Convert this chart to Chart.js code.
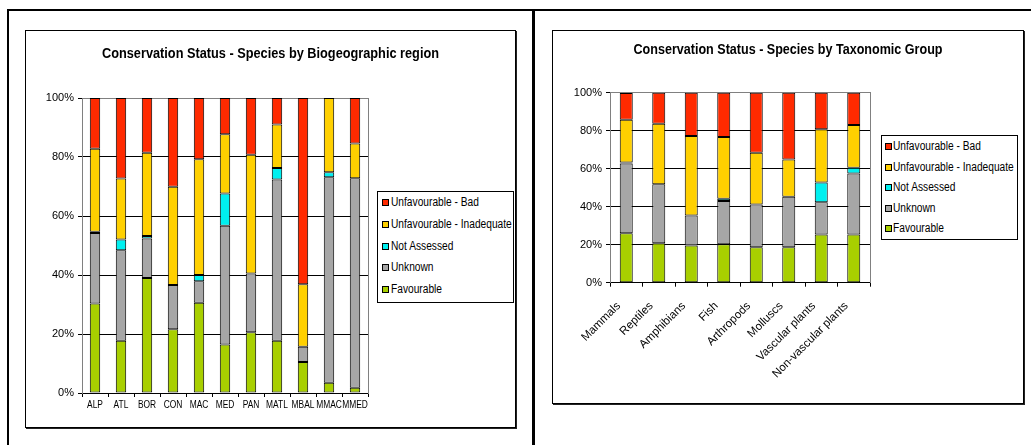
<!DOCTYPE html>
<html>
<head>
<meta charset="utf-8">
<script src="https://cdn.jsdelivr.net/npm/chart.js@4.4.0/dist/chart.umd.min.js"></script>
<style>
  html, body { margin: 0; padding: 0; background: #fff; }
  body { width: 1031px; height: 445px; position: relative; overflow: hidden;
         font-family: "Liberation Sans", Arial, sans-serif; }
  .line { position: absolute; background: #000; }
  .box { position: absolute; border: 1px solid #000; box-shadow: 1px 1px 0 #222; background: #fff; }
  .box canvas { display: block; }
  .legend { position: absolute; border: 1px solid #000; background: #fff; box-sizing: border-box; }
  .item { position: absolute; white-space: nowrap; color: #000; line-height: 14px; font-size: 12px;
          transform: scaleX(0.85); transform-origin: 0 50%; }
  .mark { position: absolute; width: 5px; height: 5px; border: 1px solid #000; }
</style>
</head>
<body>
<div class="line" style="left:7px;top:9px;width:1024px;height:2px;"></div>
<div class="line" style="left:7px;top:9px;width:2px;height:436px;"></div>
<div class="line" style="left:532px;top:9px;width:3px;height:436px;"></div>

<div class="box" style="left:25px;top:30px;width:489px;height:396px;"><canvas id="c1"></canvas></div>
<div class="box" style="left:552px;top:30px;width:470px;height:372px;"><canvas id="c2"></canvas></div>

<div id="lg1" class="legend" style="left:377px;top:191px;width:137px;height:112px;"></div>
<div id="lg2" class="legend" style="left:881px;top:135px;width:137px;height:105px;"></div>

<script>
// ---- shared series definition ----
const seriesNames = ["Favourable", "Unknown", "Not Assessed", "Unfavourable - Inadequate", "Unfavourable - Bad"];
const seriesColors = ["#A8CF00", "#A6A6A6", "#00F0F0", "#FFD000", "#FF2A00"];
const yTicks = [0, 20, 40, 60, 80, 100];

// ---- Chart 1: by biogeographic region (percent) ----
const regions = ["ALP", "ATL", "BOR", "CON", "MAC", "MED", "PAN", "MATL", "MBAL", "MMAC", "MMED"];
const regFavourable  = [30.3, 17.7, 39.0, 21.6, 30.6, 16.4, 20.6, 17.7, 10.5, 3.5, 1.8];
const regUnknown     = [23.9, 30.7, 13.4, 15.0, 7.3, 40.3, 19.9, 54.7, 5.2, 69.6, 71.0];
const regNotAssessed = [0.5, 3.6, 0.8, 0, 2.1, 10.9, 0, 3.9, 0, 1.7, 0];
const regInadequate  = [28.1, 20.7, 28.2, 33.3, 39.2, 20.1, 40.3, 14.7, 21.2, 25.2, 11.8];
const regBad         = [17.2, 27.3, 18.6, 30.1, 20.8, 12.3, 19.2, 9.0, 63.1, 0, 15.4];

// ---- Chart 2: by taxonomic group (percent) ----
const groups = ["Mammals", "Reptiles", "Amphibians", "Fish", "Arthropods", "Molluscs", "Vascular plants", "Non-vascular plants"];
const grpFavourable  = [26.0, 20.7, 19.6, 20.2, 18.6, 18.6, 25.4, 25.4];
const grpUnknown     = [36.8, 31.1, 15.8, 22.8, 22.6, 26.7, 16.9, 32.1];
const grpNotAssessed = [0.5, 0, 0, 1.2, 0, 0, 10.5, 3.0];
const grpInadequate  = [22.5, 31.9, 41.8, 32.5, 27.2, 19.6, 27.9, 22.5];
const grpBad         = [14.0, 16.3, 22.8, 23.3, 31.6, 35.1, 19.3, 17.0];

const FONT = '"Liberation Sans", Arial, sans-serif';

function makeDatasets(arrs) {
  return arrs.map((d, i) => ({
    label: seriesNames[i],
    data: d,
    backgroundColor: seriesColors[i],
    borderColor: "#000",
    borderWidth: 1,
    borderSkipped: false,
    barPercentage: 0.4,
    categoryPercentage: 1.0
  }));
}

// narrow the title like the reference (condensed rendering), centred on full width
const titleFit = {
  id: "titleFit",
  afterLayout(chart, args, opts) {
    const t = chart.titleBlock;
    if (!t) return;
    const c = chart.width / 2;
    t.left = c - opts.width / 2;
    t.right = c + opts.width / 2;
  }
};

// condensed category labels for the left chart (positions from the x scale)
const narrowLabels = {
  id: "narrowLabels",
  afterDraw(chart, args, opts) {
    if (!opts.enabled) return;
    const xs = chart.scales.x, ctx = chart.ctx;
    ctx.save();
    ctx.fillStyle = "#000";
    ctx.font = "11.5px " + FONT;
    ctx.textAlign = "center";
    ctx.textBaseline = "top";
    chart.data.labels.forEach((lab, i) => {
      const x = xs.getPixelForValue(i);
      ctx.save();
      ctx.translate(x, xs.top + opts.offset);
      ctx.scale(opts.squeeze, 1);
      ctx.fillText(lab, 0, 0);
      ctx.restore();
    });
    ctx.restore();
  }
};

function makeChart(id, labels, arrs, cfg) {
  const cv = document.getElementById(id);
  return new Chart(cv, {
    type: "bar",
    data: { labels: labels, datasets: makeDatasets(arrs) },
    plugins: [titleFit, narrowLabels],
    options: {
      responsive: false,
      animation: false,
      devicePixelRatio: 1,
      layout: { padding: 0 },
      plugins: {
        legend: { display: false },
        tooltip: { enabled: false },
        titleFit: { width: cfg.titleWidth },
        narrowLabels: { enabled: cfg.narrow, offset: 6, squeeze: 0.73 },
        title: {
          display: true,
          text: cfg.title,
          color: "#000",
          font: { family: FONT, size: 15, weight: "bold", lineHeight: 1.2 },
          padding: { top: cfg.titleTop, bottom: cfg.titleBottom }
        }
      },
      scales: {
        x: {
          stacked: true,
          offset: true,
          afterFit(s) { s.height = cfg.xHeight; },
          grid: { display: true, drawOnChartArea: false, offset: true, color: "#000", tickLength: 4, tickColor: "#000" },
          border: { display: true, color: "#000", width: 1 },
          ticks: {
            display: !cfg.narrow,
            autoSkip: false, color: "#000", padding: cfg.xPad,
            labelOffset: cfg.labelOffset,
            maxRotation: cfg.rot, minRotation: cfg.rot,
            font: { family: FONT, size: cfg.xFont }
          }
        },
        y: {
          stacked: true,
          min: 0, max: 100,
          afterFit(s) { s.width = cfg.yWidth; },
          afterBuildTicks(s) { s.ticks = yTicks.map(v => ({ value: v })); },
          grid: {
            color: (c) => (c.tick && c.tick.value === 100) ? "#808080" : "#000",
            tickLength: 4,
            tickColor: "#000"
          },
          border: { display: true, color: "#808080", width: 1 },
          ticks: {
            color: "#000", padding: 4,
            font: { family: FONT, size: 11 },
            callback: (v) => v + "%"
          }
        },
        yRight: {
          position: "right",
          display: true,
          min: 0, max: 100,
          afterFit(s) { s.width = cfg.rightSpace; },
          grid: { display: false },
          ticks: { display: false },
          border: { display: true, color: "#808080", width: 1 }
        }
      }
    }
  });
}

function setCanvas(id, w, h) {
  const cv = document.getElementById(id);
  cv.width = w; cv.height = h;
  cv.style.width = w + "px"; cv.style.height = h + "px";
}
setCanvas("c1", 489, 396);
setCanvas("c2", 470, 372);

makeChart("c1", regions,
  [regFavourable, regUnknown, regNotAssessed, regInadequate, regBad],
  { title: "Conservation Status - Species by Biogeographic region", titleWidth: 337, rightSpace: 147,
    titleTop: 14, titleBottom: 35, xHeight: 34, xPad: 2, rot: 0, xFont: 11, yWidth: 56,
    narrow: true, labelOffset: 0 });

makeChart("c2", groups,
  [grpFavourable, grpUnknown, grpNotAssessed, grpInadequate, grpBad],
  { title: "Conservation Status - Species by Taxonomic Group", titleWidth: 309, rightSpace: 153,
    titleTop: 9.5, titleBottom: 34.2, xHeight: 120.3, xPad: 12.5, rot: 45, xFont: 11.5, yWidth: 57,
    narrow: false, labelOffset: -7.5 });

// ---- HTML legends (reverse order: Bad on top) ----
function buildLegend(elId, rowCenters, markLeft, textLeft) {
  const el = document.getElementById(elId);
  const order = [4, 3, 2, 1, 0];
  order.forEach((si, r) => {
    const m = document.createElement("div");
    m.className = "mark";
    m.style.left = markLeft + "px";
    m.style.top = (rowCenters[r] - 3) + "px";
    m.style.background = seriesColors[si];
    el.appendChild(m);
    const t = document.createElement("div");
    t.className = "item";
    t.style.left = textLeft + "px";
    t.style.top = (rowCenters[r] - 7) + "px";
    t.textContent = seriesNames[si];
    el.appendChild(t);
  });
}
// row centers relative to legend box (inside border)
buildLegend("lg1", [10.3, 32, 53.7, 75, 96.7], 4, 13);
buildLegend("lg2", [9.7, 30.7, 51.3, 71.7, 92.3], 3, 11);
</script>
</body>
</html>
